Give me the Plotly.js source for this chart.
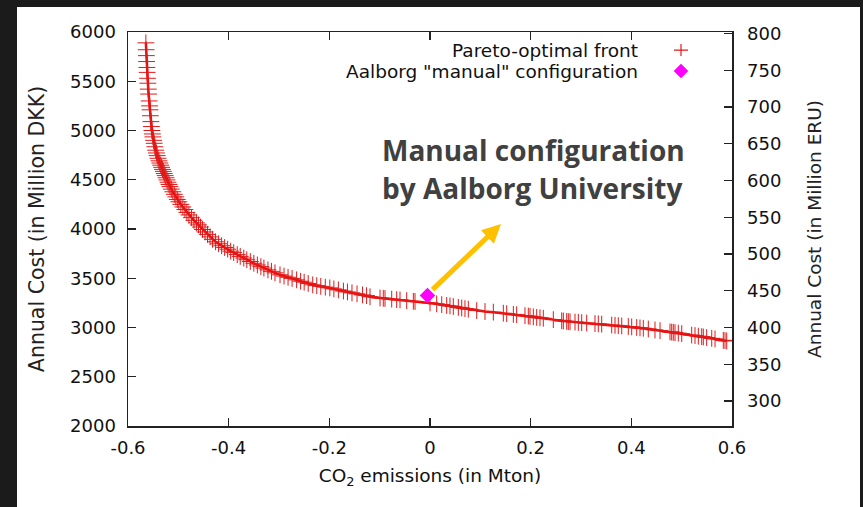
<!DOCTYPE html>
<html>
<head>
<meta charset="utf-8">
<script src="https://cdn.plot.ly/plotly-3.0.1.min.js"></script>
<style>
  html, body { margin: 0; padding: 0; width: 863px; height: 507px; overflow: hidden;
    background: #1b1b1b; }
  #panel { position: absolute; left: 17px; top: 7px; width: 843px; height: 500px; background: #ffffff; }
  #chart { width: 843px; height: 500px; }
</style>
</head>
<body>
<div id="panel"><div id="chart"></div></div>
<script>
// Pareto-optimal front: CO2 emissions (Mton) vs annual cost (Million DKK)
const paretoCO2 = [
  -0.5645, -0.5640, -0.5635, -0.5630, -0.5625, -0.5620, -0.5612, -0.5605, -0.5598, -0.5590,
  -0.5580, -0.5570, -0.5562, -0.5555, -0.5545, -0.5535, -0.5525, -0.5515, -0.5505, -0.5492,
  -0.5480, -0.5466, -0.5450, -0.5435, -0.5420, -0.5403, -0.5385, -0.5368, -0.5350, -0.5332,
  -0.5315, -0.5298, -0.5280, -0.5262, -0.5244, -0.5225, -0.5205, -0.5185, -0.5165, -0.5140,
  -0.5110, -0.5080, -0.5050, -0.5020, -0.4990, -0.4950, -0.4910, -0.4870, -0.4830, -0.4790,
  -0.4740, -0.4690, -0.4640, -0.4600, -0.4560, -0.4520, -0.4470, -0.4420, -0.4370, -0.4320,
  -0.4260, -0.4200, -0.4140, -0.4080, -0.4020, -0.3960, -0.3900, -0.3830, -0.3770, -0.3700,
  -0.3640, -0.3570, -0.3500, -0.3430, -0.3360, -0.3300, -0.3220, -0.3150, -0.3080, -0.2980,
  -0.2900, -0.2820, -0.2740, -0.2650, -0.2570, -0.2500, -0.2420, -0.2330, -0.2250, -0.2170,
  -0.2080, -0.1990, -0.1910, -0.1820, -0.1720, -0.1640, -0.1550, -0.1450, -0.1340, -0.1260,
  -0.1192, -0.0993, -0.0928, -0.0894, -0.0761, -0.0662, -0.0596, -0.0463, -0.0331, -0.0298,
   0.0000,  0.0133,  0.0233,  0.0332,  0.0397,  0.0463,  0.0563,  0.0630,  0.0695,  0.0761,
   0.0928,  0.1093,  0.1258,  0.1457,  0.1524,  0.1656,  0.1722,  0.1887,  0.1953,  0.1987,
   0.2053,  0.2120,  0.2185,  0.2251,  0.2450,  0.2617,  0.2649,  0.2716,  0.2748,  0.2782,
   0.2881,  0.2947,  0.3014,  0.3113,  0.3278,  0.3344,  0.3411,  0.3610,  0.3676,  0.3741,
   0.3809,  0.3940,  0.4007,  0.4107,  0.4172,  0.4238,  0.4337,  0.4470,  0.4570,  0.4768,
   0.4802,  0.4834,  0.4868,  0.4933,  0.5001,  0.5199,  0.5265,  0.5331,  0.5398,  0.5430,
   0.5497,  0.5597,  0.5663,  0.5827,  0.5861,  0.5895
];
const paretoCost = [
  5890, 5820, 5760, 5700, 5640, 5590, 5530, 5480, 5420, 5370,
  5300, 5250, 5210, 5150, 5090, 5040, 5000, 4965, 4935, 4900,
  4870, 4835, 4800, 4772, 4745, 4718, 4692, 4670, 4648, 4626,
  4605, 4585, 4563, 4542, 4520, 4498, 4475, 4452, 4430, 4405,
  4378, 4352, 4326, 4300, 4276, 4250, 4224, 4198, 4168, 4143,
  4115, 4088, 4062, 4042, 4020, 3995, 3970, 3945, 3920, 3895,
  3870, 3850, 3830, 3812, 3795, 3775, 3760, 3740, 3722, 3705,
  3688, 3670, 3652, 3635, 3618, 3603, 3585, 3570, 3555, 3535,
  3522, 3510, 3498, 3484, 3470, 3460, 3447, 3433, 3425, 3418,
  3410, 3402, 3392, 3382, 3370, 3361, 3352, 3342, 3331, 3324,
  3312, 3300, 3297, 3295, 3288, 3283, 3280, 3273, 3266, 3264,
  3249, 3240, 3232, 3224, 3219, 3213, 3204, 3198, 3192, 3186,
  3172, 3162, 3156, 3145, 3141, 3133, 3130, 3120, 3116, 3113,
  3108, 3103, 3099, 3094, 3080, 3068, 3066, 3062, 3060, 3058,
  3055, 3052, 3049, 3045, 3040, 3037, 3034, 3025, 3022, 3019,
  3016, 3010, 3006, 3000, 2996, 2992, 2985, 2975, 2968, 2955,
  2953, 2951, 2948, 2943, 2938, 2923, 2918, 2912, 2907, 2904,
  2898, 2890, 2884, 2870, 2867, 2864
];
// Aalborg University "manual" configuration
const manualCO2 = [-0.005];
const manualCost = [3325];

// Axis ticks
const xTicks = [-0.6, -0.4, -0.2, 0, 0.2, 0.4, 0.6];
const xTickText = ["-0.6", "-0.4", "-0.2", "0", "0.2", "0.4", "0.6"];
const yTicks = [2000, 2500, 3000, 3500, 4000, 4500, 5000, 5500, 6000];
const y2Ticks = [300, 350, 400, 450, 500, 550, 600, 650, 700, 750, 800];

const legendNames = ["Pareto-optimal front", "Aalborg \"manual\" configuration"];

const FONT = "DejaVu Sans, sans-serif";

const traces = [
  {
    x: paretoCO2, y: paretoCost, type: "scatter", mode: "lines+markers",
    name: legendNames[0],
    line: { color: "#ff0000", width: 2.5 },
    marker: { symbol: "cross-thin-open", size: 12, color: "rgb(225,25,25)",
              line: { color: "rgb(220,30,30)", width: 1 } },
    showlegend: false, hoverinfo: "x+y"
  },
  {
    x: manualCO2, y: manualCost, type: "scatter", mode: "markers",
    name: legendNames[1],
    marker: { symbol: "diamond", size: 12, color: "#ff00ff" },
    showlegend: false
  },
  {
    x: [], y: [], yaxis: "y2", type: "scatter", mode: "markers", showlegend: false
  }
];

const axisLine = "#222222";
const layout = {
  width: 843, height: 500,
  margin: { l: 111, r: 128, t: 25, b: 81 },
  paper_bgcolor: "#ffffff", plot_bgcolor: "#ffffff",
  font: { family: FONT, size: 18, color: "#111111" },
  showlegend: false,
  xaxis: {
    range: [-0.6, 0.6], tickvals: xTicks, ticktext: xTickText,
    ticks: "inside", ticklen: 8, tickwidth: 1.2, tickcolor: axisLine,
    showline: true, linecolor: axisLine, linewidth: 1.5, mirror: "ticks",
    showgrid: false, zeroline: false,
    tickfont: { family: FONT, size: 18, color: "#111" },
    ticklabelstandoff: 5,
    title: { text: "CO<sub>2</sub> emissions (in Mton)", font: { family: FONT, size: 18.5, color: "#111" }, standoff: 12 }
  },
  yaxis: {
    range: [2000, 6000], tickvals: yTicks,
    ticks: "inside", ticklen: 8, tickwidth: 1.2, tickcolor: axisLine,
    showline: true, linecolor: axisLine, linewidth: 1.5, mirror: true,
    showgrid: false, zeroline: false,
    tickfont: { family: FONT, size: 18, color: "#111" },
    ticklabelstandoff: 7,
    title: { text: "Annual Cost (in Million DKK)", font: { family: FONT, size: 20.5, color: "#222" }, standoff: 20 }
  },
  yaxis2: {
    overlaying: "y", side: "right", range: [266, 802], tickvals: y2Ticks,
    ticks: "inside", ticklen: 8, tickwidth: 1.2, tickcolor: axisLine,
    showline: false, showgrid: false, zeroline: false,
    tickfont: { family: FONT, size: 18, color: "#111" },
    ticklabelstandoff: 14,
    title: { text: "Annual Cost (in Million ERU)", font: { family: FONT, size: 18.5, color: "#222" }, standoff: 27 }
  },
  annotations: [
    { x: 0.4172, y: 5817, xref: "x", yref: "y", xanchor: "right", yanchor: "middle",
      text: legendNames[0], showarrow: false, font: { family: FONT, size: 18.5, color: "#111" } },
    { x: 0.4172, y: 5604, xref: "x", yref: "y", xanchor: "right", yanchor: "middle",
      text: legendNames[1], showarrow: false, font: { family: FONT, size: 18.5, color: "#111" } },
    { x: -0.1, y: 4802, xref: "x", yref: "y", xanchor: "left", yanchor: "middle",
      text: "<b>Manual configuration</b>", showarrow: false,
      font: { family: "Open Sans, sans-serif", size: 28, color: "#404040" } },
    { x: -0.1, y: 4416, xref: "x", yref: "y", xanchor: "left", yanchor: "middle",
      text: "<b>by Aalborg University</b>", showarrow: false,
      font: { family: "Open Sans, sans-serif", size: 28, color: "#404040" } },
    { x: 0.141, y: 4050, ax: 0.002, ay: 3370, xref: "x", yref: "y", axref: "x", ayref: "y",
      text: "", showarrow: true, arrowhead: 2, arrowsize: 0.75, arrowwidth: 5,
      arrowcolor: "#ffc000", standoff: 0, startstandoff: 0 }
  ],
  shapes: [
    { type: "path", xref: "x", yref: "y", xsizemode: "pixel", ysizemode: "pixel",
      xanchor: 0.4987, yanchor: 5817,
      path: "M -7 0 L 7 0 M 0 -6 L 0 6", line: { color: "rgb(225,25,25)", width: 1.2 } },
    { type: "path", xref: "x", yref: "y", xsizemode: "pixel", ysizemode: "pixel",
      xanchor: 0.4987, yanchor: 5604,
      path: "M -7 0 L 0 7 L 7 0 L 0 -7 Z", fillcolor: "#ff00ff", line: { color: "#ff00ff", width: 0.5 } }
  ]
};

Plotly.newPlot("chart", traces, layout, { staticPlot: true, displayModeBar: false });
</script>
</body>
</html>
